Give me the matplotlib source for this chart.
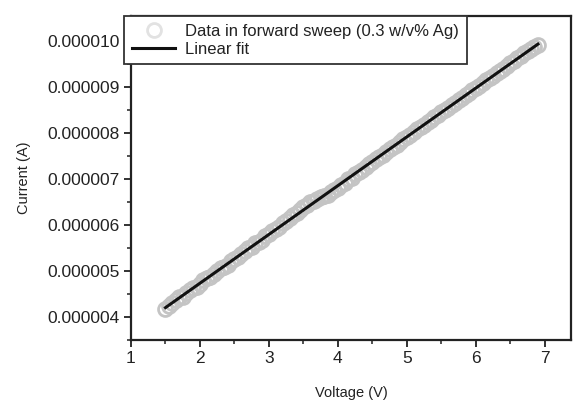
import numpy as np
import matplotlib
matplotlib.use("Agg")
import matplotlib.pyplot as plt
from matplotlib.ticker import MultipleLocator, FormatStrFormatter

plt.rcParams['font.family'] = ['Liberation Sans', 'DejaVu Sans']

# Voltage (V)
voltage = [1.50, 1.55, 1.60, 1.65, 1.70, 1.75, 1.80, 1.85, 1.90, 1.95,
           2.00, 2.05, 2.10, 2.15, 2.20, 2.25, 2.30, 2.35, 2.40, 2.45,
           2.50, 2.55, 2.60, 2.65, 2.70, 2.75, 2.80, 2.85, 2.90, 2.95,
           3.00, 3.05, 3.10, 3.15, 3.20, 3.25, 3.30, 3.35, 3.40, 3.45,
           3.50, 3.55, 3.60, 3.65, 3.70, 3.75, 3.80, 3.85, 3.90, 3.95,
           4.00, 4.05, 4.10, 4.15, 4.20, 4.25, 4.30, 4.35, 4.40, 4.45,
           4.50, 4.55, 4.60, 4.65, 4.70, 4.75, 4.80, 4.85, 4.90, 4.95,
           5.00, 5.05, 5.10, 5.15, 5.20, 5.25, 5.30, 5.35, 5.40, 5.45,
           5.50, 5.55, 5.60, 5.65, 5.70, 5.75, 5.80, 5.85, 5.90, 5.95,
           6.00, 6.05, 6.10, 6.15, 6.20, 6.25, 6.30, 6.35, 6.40, 6.45,
           6.50, 6.55, 6.60, 6.65, 6.70, 6.75, 6.80, 6.85, 6.90]
# Current (units of 1e-6 A)
current_uA = [4.17, 4.24, 4.30, 4.37, 4.43, 4.44, 4.52, 4.58, 4.63, 4.66,
              4.72, 4.80, 4.85, 4.88, 4.93, 5.01, 5.06, 5.08, 5.14, 5.22,
              5.27, 5.30, 5.38, 5.44, 5.49, 5.52, 5.60, 5.63, 5.68, 5.75,
              5.80, 5.86, 5.92, 5.96, 6.04, 6.08, 6.15, 6.21, 6.27, 6.33,
              6.39, 6.44, 6.50, 6.52, 6.57, 6.60, 6.64, 6.66, 6.72, 6.75,
              6.80, 6.86, 6.92, 6.99, 7.03, 7.10, 7.15, 7.20, 7.27, 7.33,
              7.37, 7.43, 7.48, 7.53, 7.58, 7.65, 7.70, 7.74, 7.80, 7.86,
              7.91, 7.96, 8.02, 8.08, 8.13, 8.17, 8.23, 8.29, 8.34, 8.40,
              8.45, 8.50, 8.55, 8.61, 8.66, 8.71, 8.77, 8.82, 8.87, 8.93,
              8.98, 9.03, 9.08, 9.14, 9.19, 9.24, 9.30, 9.35, 9.40, 9.46,
              9.52, 9.56, 9.62, 9.67, 9.73, 9.77, 9.83, 9.86, 9.92]

x = np.array(voltage)
y = np.array(current_uA) * 1e-6
slope, intercept = np.polyfit(x, y, 1)
xfit = np.array([x.min(), x.max()])
yfit = slope * xfit + intercept

fig = plt.figure(figsize=(5.73, 4.01), dpi=100)
ax = fig.add_axes([0.2286, 0.152, 0.768, 0.808])

ax.plot(x, y, linestyle='none', marker='o', markersize=10, markerfacecolor='none',
        markeredgecolor='#c4c4c4', markeredgewidth=2.0,
        label='Data in forward sweep (0.3 w/v% Ag)')
ax.plot(xfit, yfit, color='#111111', linewidth=2.2, label='Linear fit')

ax.set_xlim(1.0, 7.38)
ax.set_ylim(3.5e-6, 10.54e-6)
ax.xaxis.set_major_locator(MultipleLocator(1))
ax.xaxis.set_minor_locator(MultipleLocator(0.5))
ax.yaxis.set_major_locator(MultipleLocator(1e-6))
ax.yaxis.set_minor_locator(MultipleLocator(0.5e-6))
ax.yaxis.set_major_formatter(FormatStrFormatter('%.6f'))
ax.tick_params(which='major', direction='out', length=5, width=1.3, labelsize=12.5,
               color='#222222', labelcolor='#222222', pad=3)
ax.tick_params(which='minor', direction='out', length=3, width=1.1, color='#222222')
for s in ax.spines.values():
    s.set_linewidth(1.6)
    s.set_color('#222222')

ax.set_xlabel('Voltage (V)', fontsize=10.5, labelpad=14, color='#222222')
ax.set_ylabel('Current (A)', fontsize=10.5, labelpad=12, color='#222222')

leg = ax.legend(loc='upper left', bbox_to_anchor=(-0.015, 1.0), borderaxespad=0,
                fancybox=False, framealpha=1, edgecolor='#333333', fontsize=12,
                handlelength=2.6, handletextpad=0.6, borderpad=0.45, labelspacing=0.2)
leg.get_frame().set_linewidth(1.3)
leg.legend_handles[0].set_markeredgecolor('#e2e2e2')
for t in leg.get_texts():
    t.set_color('#222222')

fig.savefig('out.png', dpi=100)
